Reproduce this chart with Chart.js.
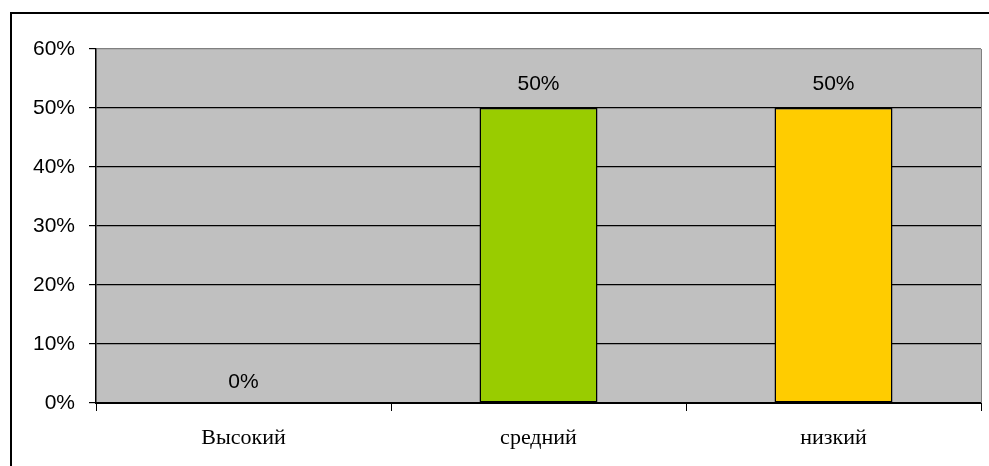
<!DOCTYPE html>
<html>
<head>
<meta charset="utf-8">
<script src="https://cdn.jsdelivr.net/npm/chart.js@4/dist/chart.umd.min.js"></script>
<style>
    html, body { margin: 0; padding: 0; background: #fff; }
    #chart { display: block; }
</style>
</head>
<body>
<canvas id="chart" width="989" height="466"></canvas>
<script>
// Chart data
const categories = ['Высокий', 'средний', 'низкий'];
const values = [0, 50, 50];
const barColors = ['#99CC00', '#99CC00', '#FFCC00'];
const yTicks = [0, 10, 20, 30, 40, 50, 60];

// Frame round the whole picture, gray plot area
const backgroundPlugin = {
    id: 'background',
    beforeDraw(chart) {
        const ctx = chart.ctx;
        const a = chart.chartArea;
        ctx.save();
        ctx.strokeStyle = '#000';
        ctx.lineWidth = 2;
        ctx.strokeRect(11, 13, 1000, 1000);
        ctx.fillStyle = '#C0C0C0';
        ctx.fillRect(a.left, a.top, a.right - a.left, a.bottom - a.top);
        ctx.restore();
    },
    afterDatasetsDraw(chart) {
        const ctx = chart.ctx;
        const a = chart.chartArea;
        ctx.save();
        ctx.strokeStyle = '#808080';
        ctx.lineWidth = 1;
        ctx.beginPath();
        ctx.moveTo(a.right + 0.5, a.top);
        ctx.lineTo(a.right + 0.5, a.bottom);
        ctx.stroke();
        ctx.restore();
    }
};

// Value labels over the bars
const valueLabels = {
    id: 'valueLabels',
    afterDatasetsDraw(chart) {
        const ctx = chart.ctx;
        const meta = chart.getDatasetMeta(0);
        ctx.save();
        ctx.font = '21px "Liberation Sans", Arial, sans-serif';
        ctx.fillStyle = '#000';
        ctx.textAlign = 'center';
        ctx.textBaseline = 'middle';
        meta.data.forEach((bar, i) => {
            const off = values[i] === 0 ? 21 : 24;
            ctx.fillText(values[i] + '%', bar.x, bar.y - off);
        });
        ctx.restore();
    }
};

new Chart(document.getElementById('chart'), {
    type: 'bar',
    data: {
        labels: categories,
        datasets: [{
            data: values,
            backgroundColor: barColors,
            borderColor: '#000',
            borderWidth: 1.5,
            borderSkipped: false,
            barPercentage: 0.4,
            categoryPercentage: 1
        }]
    },
    options: {
        responsive: false,
        animation: false,
        events: [],
        layout: {
            padding: { left: 10, top: 49, right: 8, bottom: 0 }
        },
        plugins: {
            legend: { display: false },
            tooltip: { enabled: false }
        },
        scales: {
            y: {
                min: 0,
                max: 60,
                afterFit(scale) { scale.width = 86; },
                afterBuildTicks(scale) {
                    scale.ticks = yTicks.map(v => ({ value: v }));
                },
                ticks: {
                    padding: 14,
                    color: '#000',
                    font: { family: '"Liberation Sans", Arial, sans-serif', size: 21 },
                    callback: v => v + '%'
                },
                grid: {
                    color: c => (c.tick && c.tick.value === 60) ? '#808080' : '#000',
                    tickColor: '#000',
                    tickLength: 7,
                    lineWidth: 1.2
                },
                border: { color: '#000', width: 1.5 }
            },
            x: {
                afterFit(scale) { scale.height = 63; },
                ticks: {
                    padding: 14,
                    color: '#000',
                    font: { family: '"Liberation Serif", "Times New Roman", serif', size: 22 }
                },
                grid: {
                    offset: true,
                    drawOnChartArea: false,
                    tickColor: '#000',
                    tickLength: 8
                },
                border: { color: '#000', width: 2 }
            }
        }
    },
    plugins: [backgroundPlugin, valueLabels]
});
</script>
</body>
</html>
